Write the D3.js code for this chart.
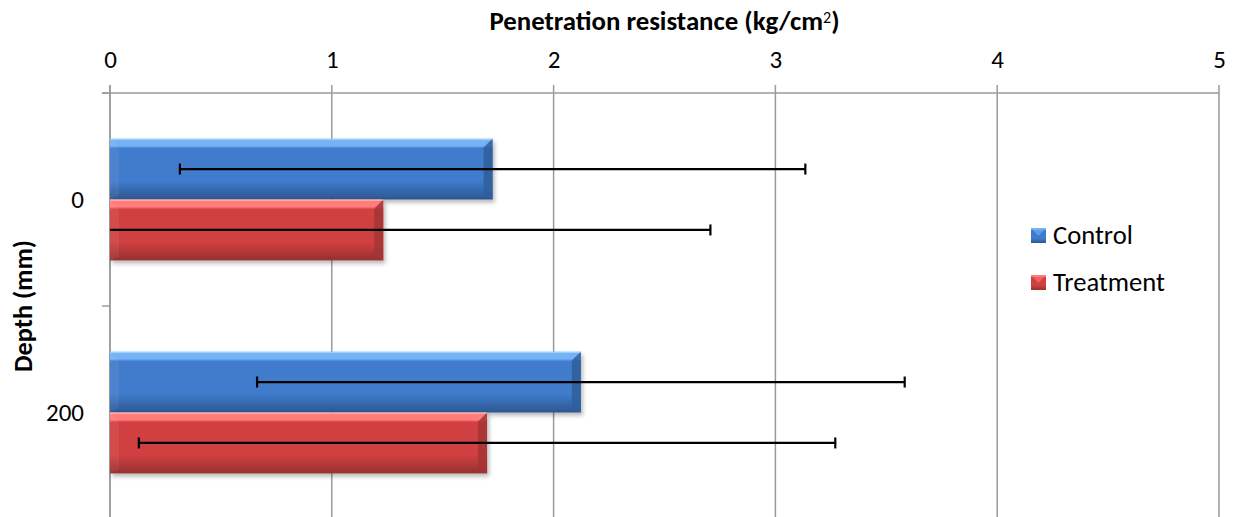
<!DOCTYPE html>
<html>
<head>
<meta charset="utf-8">
<script src="https://cdn.jsdelivr.net/npm/d3@7"></script>
<style>
  html, body { margin: 0; padding: 0; background: #fff; }
  svg { display: block; font-family: Carlito, Lato, "Open Sans", sans-serif; }
</style>
</head>
<body>
<svg id="chart" width="1233" height="517"></svg>
<script>
// ---- data ----
const categories = ["0", "200"];
const seriesNames = ["Control", "Treatment"];
const controlValues = [1.725, 2.123];
const treatmentValues = [1.232, 1.70];
const controlErrors = [1.41, 1.46];
const treatmentErrors = [1.475, 1.57];
const xTicks = [0, 1, 2, 3, 4, 5];
const xTitle = "Penetration resistance (kg/cm²)";
const yTitle = "Depth (mm)";

// ---- layout ----
const W = 1233, H = 517;
const pL = 110, pR = 1219, pT = 93, pB = 519;
const FONT = "Carlito, Lato, sans-serif";

const svg = d3.select("#chart");
const defs = svg.append("defs");

const palette = {
  Control:   { main: "#3f7bcb", light: "#73b3f5", dark: "#2c5790", side: "#2f5f9c" },
  Treatment: { main: "#d13f3f", light: "#ff7b7b", dark: "#963030", side: "#a53535" }
};

seriesNames.forEach(s => {
  const c = palette[s];
  const g = defs.append("linearGradient").attr("id", "grad-" + s)
    .attr("x1", 0).attr("y1", 0).attr("x2", 0).attr("y2", 1);
  g.append("stop").attr("offset", "0%").attr("stop-color", c.light);
  g.append("stop").attr("offset", "12%").attr("stop-color", c.light);
  g.append("stop").attr("offset", "16%").attr("stop-color", c.main);
  g.append("stop").attr("offset", "70%").attr("stop-color", c.main);
  g.append("stop").attr("offset", "88%").attr("stop-color", d3.interpolateRgb(c.main, c.dark)(0.6));
  g.append("stop").attr("offset", "100%").attr("stop-color", c.dark);
});
const shadow = defs.append("filter").attr("id", "shadow")
  .attr("x", "-5%").attr("y", "-10%").attr("width", "115%").attr("height", "130%");
shadow.append("feDropShadow").attr("dx", 2).attr("dy", 3).attr("stdDeviation", 2)
  .attr("flood-color", "#000").attr("flood-opacity", 0.28);

const x = d3.scaleLinear().domain([0, 5]).range([pL, pR]);
const y0 = d3.scaleBand().domain(categories).range([pT, pB]).padding(0);
const bw = y0.bandwidth();
const y1 = d3.scaleBand().domain(seriesNames).range([bw * 0.214, bw * 0.786]).padding(0);

const gridColor = "#9a9a9a";

// gridlines
svg.append("g").selectAll("line").data(xTicks).join("line")
  .attr("x1", d => x(d)).attr("x2", d => x(d))
  .attr("y1", pT - 8).attr("y2", H)
  .attr("stroke", gridColor).attr("stroke-width", 1.5);

// top axis
const xAxis = d3.axisTop(x).tickValues(xTicks).tickSize(0).tickPadding(0).tickFormat(d3.format("d"));
const gx = svg.append("g").attr("transform", `translate(0,${pT})`).call(xAxis);
gx.select(".domain").remove();
gx.attr("font-size", 25).attr("font-family", FONT);
gx.selectAll("text").attr("fill", "#000").attr("y", -25);
svg.append("line").attr("x1", pL - 8).attr("x2", pR).attr("y1", pT).attr("y2", pT)
  .attr("stroke", gridColor).attr("stroke-width", 1.5);

// left axis
svg.append("line").attr("x1", pL).attr("x2", pL).attr("y1", pT - 8).attr("y2", H)
  .attr("stroke", gridColor).attr("stroke-width", 1.5);
const yBoundaries = [pT, pT + bw, pT + 2 * bw];
svg.append("g").selectAll("line").data(yBoundaries).join("line")
  .attr("x1", pL - 8).attr("x2", pL).attr("y1", d => d).attr("y2", d => d)
  .attr("stroke", gridColor).attr("stroke-width", 1.5);
const yAxis = d3.axisLeft(y0).tickSize(0).tickPadding(26);
const gy = svg.append("g").attr("transform", `translate(${pL},0)`).call(yAxis);
gy.select(".domain").remove();
gy.attr("font-size", 25).attr("font-family", FONT);
gy.selectAll("text").attr("fill", "#000");

// bars
const rows = [];
categories.forEach((c, i) => {
  rows.push({ cat: c, s: "Control", v: controlValues[i], e: controlErrors[i] });
  rows.push({ cat: c, s: "Treatment", v: treatmentValues[i], e: treatmentErrors[i] });
});

const barG = svg.append("g");
rows.forEach(r => {
  const by = y0(r.cat) + y1(r.s), bh = y1.bandwidth();
  const bx = x(0), bwid = x(r.v) - x(0);
  const c = palette[r.s];
  const g = barG.append("g");
  g.append("rect").attr("x", bx).attr("y", by).attr("width", bwid).attr("height", bh)
    .attr("fill", "url(#grad-" + r.s + ")").attr("filter", "url(#shadow)");
  const bev = 9;
  g.append("path")
    .attr("d", `M${bx + bwid},${by} L${bx + bwid},${by + bh} L${bx + bwid - bev},${by + bh - 4} L${bx + bwid - bev},${by + bev} Z`)
    .attr("fill", c.side).attr("opacity", 0.85);
  g.append("path")
    .attr("d", `M${bx},${by} L${bx + bev},${by + bev} L${bx + bev},${by + bh - 4} L${bx},${by + bh} Z`)
    .attr("fill", "#ffffff").attr("opacity", 0.06);
  g.append("rect").attr("x", bx).attr("y", by).attr("width", bwid).attr("height", 1.5)
    .attr("fill", "#ffffff").attr("opacity", 0.35);
});

// error bars
const errG = svg.append("g").attr("stroke", "#000").attr("stroke-width", 2.2);
rows.forEach(r => {
  const cy = y0(r.cat) + y1(r.s) + y1.bandwidth() / 2;
  const lo = r.v - r.e, hi = r.v + r.e;
  const xl = x(Math.max(0, lo)), xh = x(Math.min(5, hi));
  errG.append("line").attr("x1", xl).attr("x2", xh).attr("y1", cy).attr("y2", cy);
  if (lo >= 0) errG.append("line").attr("x1", xl).attr("x2", xl).attr("y1", cy - 5.5).attr("y2", cy + 5.5);
  if (hi <= 5) errG.append("line").attr("x1", xh).attr("x2", xh).attr("y1", cy - 5.5).attr("y2", cy + 5.5);
});

// titles
function fitWidth(sel, target) {
  const w = sel.node().getComputedTextLength();
  const fs = parseFloat(sel.attr("font-size"));
  const nfs = fs * target / w;
  sel.attr("font-size", nfs.toFixed(2));
  return nfs;
}
const xt = svg.append("text").attr("x", (pL + pR) / 2).attr("y", 30)
  .attr("text-anchor", "middle").attr("font-weight", "bold").attr("font-size", 20)
  .attr("font-family", FONT).attr("fill", "#000");
xt.append("tspan").text(xTitle.replace("²)", ""));
xt.append("tspan").text("2").attr("font-size", "0.6em").attr("dy", -7).attr("font-weight", "normal");
xt.append("tspan").text(")").attr("dy", 7);
{
  const w = xt.node().getBBox().width;
  const fs = 20 * 350 / w;
  xt.attr("font-size", fs.toFixed(2));
}

const yt = svg.append("text").attr("transform", `translate(32,${(pT + pB) / 2}) rotate(-90)`)
  .attr("text-anchor", "middle").attr("font-weight", "bold").attr("font-size", 20)
  .attr("font-family", FONT).attr("fill", "#000").text(yTitle);
fitWidth(yt, 132);

// legend
const legend = svg.append("g").attr("font-family", FONT);
const legTexts = [];
seriesNames.forEach((s, i) => {
  const ly = 236 + i * 47;
  const c = palette[s];
  legend.append("rect").attr("x", 1031).attr("y", ly - 8).attr("width", 15).attr("height", 15)
    .attr("fill", "url(#grad-" + s + ")");
  legend.append("path").attr("d", `M1031,${ly - 8} L1038.5,${ly} L1046,${ly - 8} Z`)
    .attr("fill", c.light).attr("opacity", 0.6);
  legTexts.push(legend.append("text").attr("x", 1053).attr("y", ly + 8)
    .attr("font-size", 24).attr("fill", "#000").text(s));
});
const legFs = fitWidth(legTexts[1], 112);
legTexts[0].attr("font-size", legFs.toFixed(2));
</script>
</body>
</html>
